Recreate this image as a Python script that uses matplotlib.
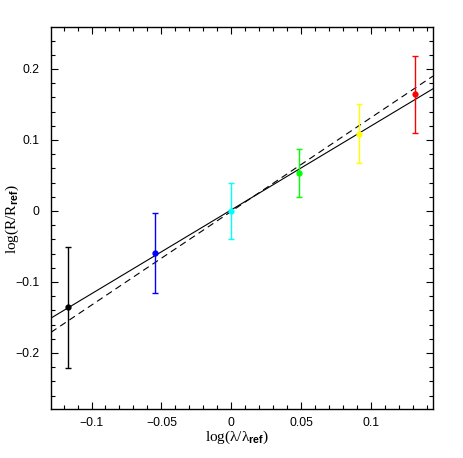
import numpy as np
import matplotlib
matplotlib.use('Agg')
import matplotlib.pyplot as plt
from matplotlib.ticker import MultipleLocator, FixedFormatter, FixedLocator

# points
log_lam = [-0.1167, -0.0546, 0.0, 0.048, 0.0914, 0.131]
log_r = [-0.1357, -0.0596, 0.0, 0.053, 0.109, 0.164]
r_err = [0.085, 0.056, 0.040, 0.034, 0.042, 0.054]
point_colors = ['black', 'blue', 'cyan', 'lime', 'yellow', 'red']

# two straight fits: slope, intercept
fit_solid = [1.183, 0.0016]
fit_dashed = [1.322, -0.0005]

xlim = (-0.129, 0.144)
ylim = (-0.279, 0.259)

plt.rcParams['mathtext.fontset'] = 'custom'
plt.rcParams['mathtext.rm'] = 'Liberation Serif'
plt.rcParams['mathtext.bf'] = 'Liberation Sans:bold'

fig = plt.figure(figsize=(4.63, 4.58), dpi=100)
ax = fig.add_axes([0.110, 0.107, 0.825, 0.834])

xx = np.array(xlim)
ax.plot(xx, fit_solid[0] * xx + fit_solid[1], color='black', lw=0.8)
ax.plot(xx, fit_dashed[0] * xx + fit_dashed[1], color='black', lw=0.8, dashes=(6, 4))

for x, y, e, c in zip(log_lam, log_r, r_err, point_colors):
    ax.errorbar(x, y, yerr=e, fmt='o', color=c, ms=3.5, elinewidth=1.0,
                capsize=2.2, capthick=1.0)

ax.set_xlim(xlim)
ax.set_ylim(ylim)

ax.xaxis.set_major_locator(FixedLocator([-0.1, -0.05, 0, 0.05, 0.1]))
ax.xaxis.set_major_formatter(FixedFormatter(['\u22120.1', '\u22120.05', '0', '0.05', '0.1']))
ax.xaxis.set_minor_locator(MultipleLocator(0.01))
ax.yaxis.set_major_locator(FixedLocator([-0.2, -0.1, 0, 0.1, 0.2]))
ax.yaxis.set_major_formatter(FixedFormatter(['\u22120.2', '\u22120.1', '0', '0.1', '0.2']))
ax.yaxis.set_minor_locator(MultipleLocator(0.02))

ax.tick_params(which='both', direction='in', top=True, right=True, width=0.8)
ax.tick_params(which='major', length=5, labelsize=8.8)
ax.tick_params(axis='y', which='major', pad=8.5)
ax.tick_params(axis='x', which='major', pad=6)
ax.tick_params(which='minor', length=2.8)
for lab in ax.get_xticklabels() + ax.get_yticklabels():
    lab.set_family('Liberation Sans')
for s in ax.spines.values():
    s.set_linewidth(1.0)

fig.text(237 / 463, 1 - 437 / 458, 'log(\u03bb/\u03bb$_{\\mathbf{ref}}$)', family='Liberation Serif',
         fontsize=11, ha='center', va='center')
fig.text(12 / 463, 1 - 219 / 458, 'log(R/R$_{\\mathbf{ref}}$)', family='Liberation Serif',
         fontsize=11, ha='center', va='center', rotation=90)

plt.savefig('out.png', dpi=100)
